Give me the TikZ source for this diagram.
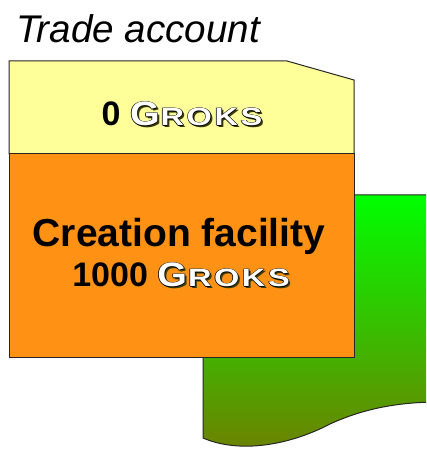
\documentclass[tikz,border=0pt]{standalone}
\usepackage{fontspec}
\setmainfont{Liberation Sans}
\usepackage{graphicx}
\definecolor{ledger}{RGB}{255,255,153}
\definecolor{facility}{RGB}{255,146,20}
\definecolor{fieldtop}{RGB}{0,255,0}
\definecolor{fieldbottom}{RGB}{110,128,0}
\definecolor{grokshade}{RGB}{60,60,10}
% the unit name: big G, wide small capitals
\newcommand\grokglyphs{\scalebox{1.12}[1]{G}\kern1pt\scalebox{1.3}[1]{\fontsize{25}{25}\selectfont R\kern2pt O\kern2pt K\kern2pt S}}
\newcommand\groks{\leavevmode
  \rlap{\kern2pt\raisebox{-2pt}{\color{grokshade}\grokglyphs}}%
  \rlap{\kern-0.7pt\color{black}\grokglyphs}%
  \rlap{\kern0.7pt\color{black}\grokglyphs}%
  \rlap{\raisebox{0.7pt}{\color{black}\grokglyphs}}%
  \rlap{\raisebox{-0.7pt}{\color{black}\grokglyphs}}%
  {\color{white}\grokglyphs}}
\begin{document}
\begin{tikzpicture}[x=1pt,y=1pt,
  sheet/.style={draw=black!85,line width=1pt},
  txt/.style={inner sep=0pt,anchor=base}]
\useasboundingbox (0,0) rectangle (426,450);
\clip (0,0) rectangle (426,450);
% green sheet lying behind
\shade[sheet,top color=fieldtop,bottom color=fieldbottom]
  (203,255) -- (440,255) -- (440,48)
  .. controls (400,48) and (365,42) .. (330,26)
  .. controls (290,5) and (240,-4) .. (203,12) -- cycle;
% account card
\filldraw[sheet,fill=ledger] (9,389) -- (287,389) -- (354,370) -- (354,296) -- (9,296) -- cycle;
\filldraw[sheet,fill=facility] (9,296) rectangle (354,92);
\node[txt,anchor=base west,font=\itshape\fontsize{38.6}{40}\selectfont] (title) at (16,407) {Trade account};
\node[txt,font=\bfseries\fontsize{34}{36}\selectfont] (tradebal) at (182,324) {0\ \groks};
\node[txt,font=\bfseries\fontsize{39}{40}\selectfont] (facname) at (179,203) {Creation facility};
\node[txt,font=\bfseries\fontsize{34}{36}\selectfont] (facbal) at (181,163) {1000\ \groks};
\end{tikzpicture}
\end{document}
